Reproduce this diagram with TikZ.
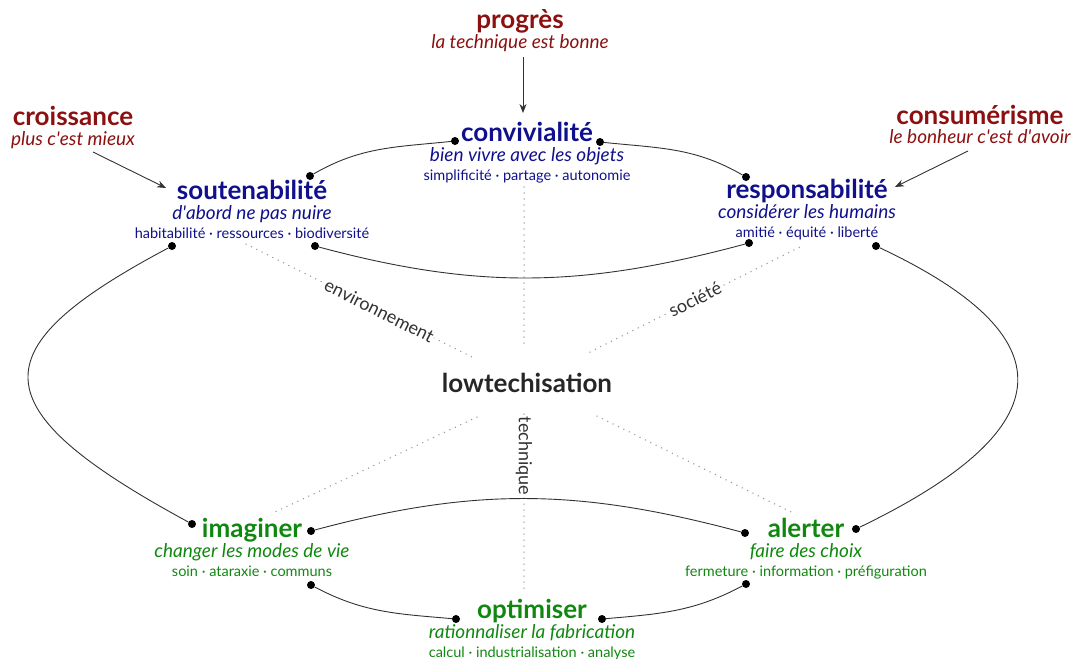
\documentclass[tikz,border=0pt]{standalone}
\usepackage{fontspec}
\setmainfont{Lato}
\usetikzlibrary{positioning,arrows.meta}

\definecolor{bleu}{RGB}{16,16,140}
\definecolor{rouge}{RGB}{140,16,16}
\definecolor{vert}{RGB}{16,136,16}
\definecolor{gristrait}{RGB}{50,50,50}
\definecolor{grispoint}{RGB}{150,150,150}
\newcommand{\apo}{\textquotesingle}

\begin{document}
\begin{tikzpicture}[x=1pt,y=1pt,node distance=20pt,on grid,
    titre/.style={font=\bfseries\fontsize{26}{30}\selectfont,anchor=base,inner sep=1pt},
    devise/.style={font=\itshape\fontsize{19}{22}\selectfont,inner sep=1pt},
    mots/.style={font=\fontsize{14.5}{17}\selectfont,inner sep=1pt},
    axe/.style={grispoint,line width=1.5pt,line cap=round,dash pattern=on 0pt off 6pt},
    lien/.style={gristrait,line width=0.9pt},
    fleche/.style={gristrait,line width=0.9pt,-{Stealth[length=9pt,width=7pt]}},
    point/.style={circle,fill=black,inner sep=0pt,minimum size=8pt},
    etiquette/.style={font=\fontsize{18}{21}\selectfont,text=gristrait,fill=white,inner sep=1pt}]
  \useasboundingbox (0,0) rectangle (1072,-659);

  % ideologies
  \node[titre,text=rouge] (prog) at (520,-28) {progrès};
  \node[devise,text=rouge] (prog-d) [below=20pt of prog.base, anchor=base] {la technique est bonne};
  \node[titre,text=rouge] (croi) at (73,-125) {croissance};
  \node[devise,text=rouge] (croi-d) [below=20pt of croi.base, anchor=base] {plus c\apo est mieux};
  \node[titre,text=rouge] (cons) at (980,-124) {consumérisme};
  \node[devise,text=rouge] (cons-d) [below=19pt of cons.base, anchor=base] {le bonheur c\apo est d\apo avoir};

  % valeurs
  \node[titre,text=bleu] (conv) at (527,-141) {convivialité};
  \node[devise,text=bleu] (conv-d) [below=20pt of conv.base, anchor=base] {bien vivre avec les objets};
  \node[mots,text=bleu] (conv-m) [below=39pt of conv.base, anchor=base] {simplificité · partage · autonomie};
  \node[titre,text=bleu] (sout) at (252,-199) {soutenabilité};
  \node[devise,text=bleu] (sout-d) [below=20pt of sout.base, anchor=base] {d\apo abord ne pas nuire};
  \node[mots,text=bleu] (sout-m) [below=39pt of sout.base, anchor=base] {habitabilité · ressources · biodiversité};
  \node[titre,text=bleu] (resp) at (807,-198) {responsabilité};
  \node[devise,text=bleu] (resp-d) [below=20pt of resp.base, anchor=base] {considérer les humains};
  \node[mots,text=bleu] (resp-m) [below=39pt of resp.base, anchor=base] {amitié · équité · liberté};

  \node[titre,text=black!85] (low) at (527,-392) {lowtechisation};

  % actions
  \node[titre,text=vert] (imag) at (252,-537) {imaginer};
  \node[devise,text=vert] (imag-d) [below=20pt of imag.base, anchor=base] {changer les modes de vie};
  \node[mots,text=vert] (imag-m) [below=39pt of imag.base, anchor=base] {soin · ataraxie · communs};
  \node[titre,text=vert] (aler) at (806,-537) {alerter};
  \node[devise,text=vert] (aler-d) [below=20pt of aler.base, anchor=base] {faire des choix};
  \node[mots,text=vert] (aler-m) [below=39pt of aler.base, anchor=base] {fermeture · information · préfiguration};
  \node[titre,text=vert] (opti) at (532,-618) {optimiser};
  \node[devise,text=vert] (opti-d) [below=20pt of opti.base, anchor=base] {rationnaliser la fabrication};
  \node[mots,text=vert] (opti-m) [below=39pt of opti.base, anchor=base] {calcul · industrialisation · analyse};

  % points d'accroche
  \node[point] (conv-g) at (455,-141) {};
  \node[point] (conv-r) at (600,-142) {};
  \node[point] (sout-h) at (310,-176) {};
  \node[point] (sout-b) at (315,-246) {};
  \node[point] (sout-g) at (172,-246) {};
  \node[point] (resp-h) at (746,-177) {};
  \node[point] (resp-b) at (749,-243) {};
  \node[point] (resp-r) at (876,-246) {};
  \node[point] (imag-g) at (192,-524) {};
  \node[point] (imag-r) at (311,-531) {};
  \node[point] (imag-b) at (311,-585) {};
  \node[point] (aler-g) at (745,-533) {};
  \node[point] (aler-r) at (856,-529) {};
  \node[point] (aler-b) at (746,-584) {};
  \node[point] (opti-g) at (456,-619) {};
  \node[point] (opti-r) at (602,-619) {};

  % axes
  \coordinate (env-a) at (246,-244);  \coordinate (env-b) at (472,-357);
  \coordinate (soc-a) at (590,-352);  \coordinate (soc-b) at (800,-247);
  \coordinate (tec-a) at (524,-414);  \coordinate (tec-b) at (524,-593);
  \coordinate (haut-a) at (524,-187); \coordinate (haut-b) at (524,-347);
  \coordinate (bg-a) at (477,-417);   \coordinate (bg-b) at (273,-513);
  \coordinate (bd-a) at (597,-416);   \coordinate (bd-b) at (793,-513);
  \draw[axe] (haut-a) -- (haut-b);
  \draw[axe] (bg-a) -- (bg-b);
  \draw[axe] (bd-a) -- (bd-b);
  \draw[axe] (env-a) -- (env-b) node[etiquette,sloped,pos=0.59] {environnement};
  \draw[axe] (soc-a) -- (soc-b) node[etiquette,sloped,pos=0.5] {société};
  \draw[axe] (tec-a) -- (tec-b) node[etiquette,rotate=-90,pos=0.235] {technique};

  % liens
  \path[lien] (conv-g) edge[out=186,in=30] (sout-h)
              (conv-r) edge[out=-6,in=150] (resp-h)
              (sout-b) edge[out=-15,in=195] (resp-b)
              (imag-r) edge[out=15,in=165] (aler-g)
              (imag-b) edge[out=-28,in=175] (opti-g)
              (opti-r) edge[out=5,in=208] (aler-b);
  \draw[lien] (sout-g) .. controls (-22,-349) and (-22,-408) .. (imag-g);
  \draw[lien] (resp-r) .. controls (1067,-336) and (1067,-427) .. (aler-r);

  % influences
  \draw[fleche] ([shift={(3,-9)}]prog-d.base) -- ([shift={(-4,28)}]conv.base);
  \draw[fleche] ([shift={(20,-7)}]croi-d.base) -- ([shift={(-86,11)}]sout.base);
  \draw[fleche] ([shift={(-12,-8)}]cons-d.base) -- ([shift={(88,11)}]resp.base);
\end{tikzpicture}
\end{document}
